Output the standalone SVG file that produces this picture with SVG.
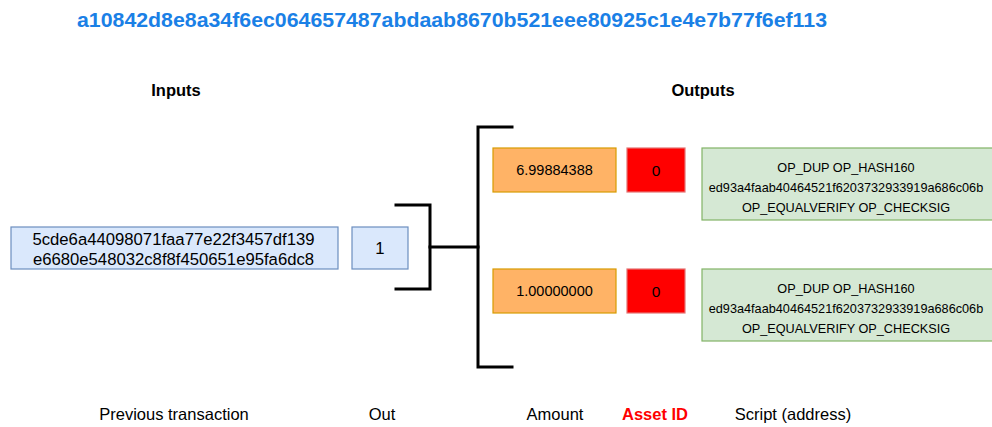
<svg xmlns="http://www.w3.org/2000/svg" width="992" height="427" viewBox="0 0 992 427">
  <style>
    text { font-family: "Liberation Sans", Arial, Helvetica, sans-serif; fill: #000; }
    .title { font-size: 20.5px; font-weight: bold; fill: #1a80e6; }
    .head { font-size: 16.5px; font-weight: bold; }
    .cap { font-size: 16.5px; }
    .capred { font-size: 16.5px; font-weight: bold; fill: #ff0000; }
    .blue { fill: #dae8fc; stroke: #6c8ebf; stroke-width: 1.2; }
    .orange { fill: #ffb366; stroke: #d79b00; stroke-width: 1.2; }
    .red { fill: #ff0000; stroke: #e57373; stroke-width: 1.2; }
    .green { fill: #d5e8d4; stroke: #82b366; stroke-width: 1.2; }
    .t16 { font-size: 16.7px; }
    .t14 { font-size: 14.5px; }
    .t15 { font-size: 15.5px; }
    .t13 { font-size: 12.7px; }
    .brk { fill: none; stroke: #000; stroke-width: 3; stroke-linecap: square; }
  </style>

  <!-- transaction id -->
  <text class="title" x="77" y="27" textLength="750" lengthAdjust="spacingAndGlyphs">a10842d8e8a34f6ec064657487abdaab8670b521eee80925c1e4e7b77f6ef113</text>

  <text class="head" x="176" y="96" text-anchor="middle">Inputs</text>
  <text class="head" x="703" y="96" text-anchor="middle">Outputs</text>

  <!-- connectors -->
  <g id="connectors">
    <path class="brk" d="M396 205 H430 V289 H396"/>
    <path class="brk" d="M430 247 H478"/>
    <path class="brk" d="M512 127 H478 V367 H512"/>
  </g>

  <g id="prev-tx">
    <rect class="blue" x="11" y="227" width="327" height="42"/>
    <text class="t16" x="173.5" y="244.5" text-anchor="middle">5cde6a44098071faa77e22f3457df139</text>
    <text class="t16" x="173.5" y="264.5" text-anchor="middle">e6680e548032c8f8f450651e95fa6dc8</text>
  </g>

  <g id="out-index">
    <rect class="blue" x="352" y="227" width="56" height="42"/>
    <text class="t16" x="380" y="254" text-anchor="middle">1</text>
  </g>

  <g id="amount-1">
    <rect class="orange" x="493" y="148" width="123" height="44"/>
    <text class="t14" x="554.5" y="175" text-anchor="middle">6.99884388</text>
  </g>
  <g id="asset-1">
    <rect class="red" x="627" y="148" width="58" height="44"/>
    <text class="t15" x="656" y="175.5" text-anchor="middle">0</text>
  </g>
  <g id="script-1">
    <rect class="green" x="702" y="148" width="296" height="72"/>
    <text class="t13" x="846" y="171.5" text-anchor="middle">OP_DUP OP_HASH160</text>
    <text class="t13" x="846" y="191.5" text-anchor="middle">ed93a4faab40464521f6203732933919a686c06b</text>
    <text class="t13" x="846" y="211.5" text-anchor="middle">OP_EQUALVERIFY OP_CHECKSIG</text>
  </g>

  <g id="amount-2">
    <rect class="orange" x="493" y="269" width="123" height="44"/>
    <text class="t14" x="554.5" y="296" text-anchor="middle">1.00000000</text>
  </g>
  <g id="asset-2">
    <rect class="red" x="627" y="269" width="58" height="44"/>
    <text class="t15" x="656" y="296.5" text-anchor="middle">0</text>
  </g>
  <g id="script-2">
    <rect class="green" x="702" y="269" width="296" height="72"/>
    <text class="t13" x="846" y="292.5" text-anchor="middle">OP_DUP OP_HASH160</text>
    <text class="t13" x="846" y="312.5" text-anchor="middle">ed93a4faab40464521f6203732933919a686c06b</text>
    <text class="t13" x="846" y="332.5" text-anchor="middle">OP_EQUALVERIFY OP_CHECKSIG</text>
  </g>

  <!-- column captions -->
  <text class="cap" x="174" y="420" text-anchor="middle">Previous transaction</text>
  <text class="cap" x="382" y="420" text-anchor="middle">Out</text>
  <text class="cap" x="555" y="420" text-anchor="middle">Amount</text>
  <text class="capred" x="655" y="420" text-anchor="middle">Asset ID</text>
  <text class="cap" x="793" y="420" text-anchor="middle">Script (address)</text>
</svg>
